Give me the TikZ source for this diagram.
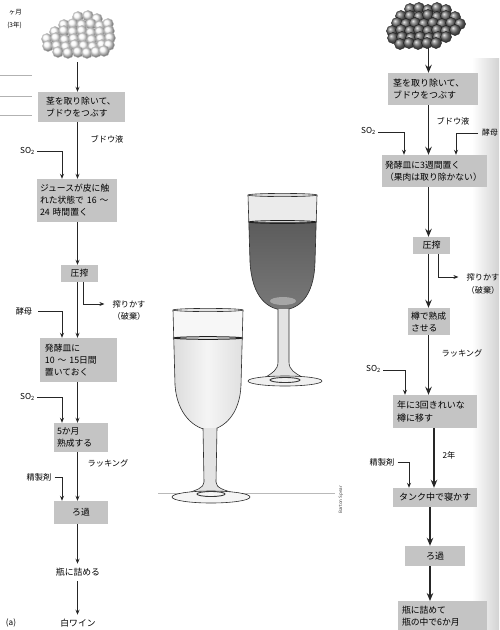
\documentclass[tikz,border=0pt]{standalone}
\usepackage{fontspec}
\setmainfont{Noto Sans CJK JP}
\usetikzlibrary{arrows.meta,shadings}

\definecolor{boxgray}{gray}{0.77}
\definecolor{ink}{gray}{0.15}
\newcommand{\fs}[2]{\fontsize{#1}{#2}\selectfont}

\tikzset{
  lbox/.style={fill=boxgray, inner ysep=0pt, align=left, font=\fs{8.8}{12}},
  rbox/.style={fill=boxgray, inner ysep=0pt, align=left, font=\fs{9}{12.5}},
  lbl/.style={font=\fs{8.2}{10.5}, inner sep=0pt},
  smallarrow/.style={draw=ink, line width=0.8pt, -{Stealth[length=5pt,width=4pt]}},
  bigarrow/.style={draw=ink, line width=1.8pt, -{Stealth[length=8pt,width=6.5pt]}},
  leader/.style={draw=gray!60, line width=0.6pt},
  glassline/.style={draw=gray!35!black, line width=0.6pt},
  lightgrape/.style={ball color=gray!4, draw=gray!50, line width=0.3pt},
  darkgrape/.style={ball color=black!55, draw=gray!20!black, line width=0.3pt},
}

\begin{document}
\begin{tikzpicture}[x=1pt,y=-1pt]
\useasboundingbox (0,0) rectangle (499,630);

% page shadow along the right edge
\shade[left color=white, right color=gray!35] (472,58) rectangle (499,630);

% helper x positions for vertical feed lines
\coordinate (x62) at (62,0);
\coordinate (x83) at (83,0);
\coordinate (x77) at (77.5,0);
\coordinate (x404) at (404,0);
\coordinate (x456) at (456,0);
\coordinate (x438) at (438,0);
\coordinate (x405) at (405,0);
\coordinate (x409) at (409,0);
\coordinate (x428) at (428.5,0);
\coordinate (x434) at (434,0);
\coordinate (x430) at (430,0);

% ---------------- left column: white wine ----------------
\node[lbl, anchor=east, font=\fs{6.5}{8}] (topa) at (22,12) {ヶ月};
\node[lbl, anchor=east, font=\fs{6.5}{8}] (topb) at (22,25) {(3年)};
\draw[leader] (0,75) -- (32,75);
\draw[leader] (0,96) -- (32,96);
\draw[leader] (0,115) -- (32,115);

% light grape bunch
\foreach \gx/\gy in {78/17,88/16,97/19,
  64/25,73/24,82/25,91/24,100/26,108/24,
  55/32,64/31,73/32,82/31,91/33,100/32,109/31,
  47/39,56/38,65/40,74/39,83/38,92/40,101/39,110/38,
  48/46,57/46,66/47,75/45,84/46,93/47,102/45,109/45,
  58/52,68/53,78/52,87/53,96/52,104/51}
  \shadedraw[lightgrape] (\gx,\gy) circle (5.6pt);
\coordinate (gL) at (77.5,62);

\node[lbox, minimum width=87pt, minimum height=30pt, inner xsep=8pt, text width=71pt] (L1) at (81.5,107) {茎を取り除いて、\\ブドウをつぶす};
\node[lbox, minimum width=80pt, minimum height=43pt, inner xsep=3pt, text width=74pt] (L2) at (77,200.5) {ジュースが皮に触\\れた状態で 16 ～\\24 時間置く};
\node[lbox, minimum width=37pt, minimum height=17pt, align=center] (L3) at (79.5,273.5) {圧搾};
\node[lbox, minimum width=77pt, minimum height=44pt, inner xsep=5pt, text width=67pt] (L4) at (78.5,360) {発酵皿に\\10 ～ 15日間\\置いておく};
\node[lbox, minimum width=54pt, minimum height=29pt, inner xsep=3pt, text width=48pt] (L5) at (81,437.5) {5か月\\熟成する};
\node[lbox, minimum width=54pt, minimum height=23pt, align=center] (L6) at (81,512.5) {ろ過};
\node[lbl, font=\fs{8.8}{11}] (L7) at (78,572) {瓶に詰める};
\node[lbl, font=\fs{8.8}{11}] (L8) at (78,623) {白ワイン};
\node[lbl] (tagA) at (11,623) {(a)};

% main flow
\draw[smallarrow] (gL) -- (L1.north -| gL);
\draw[smallarrow] (L1.south -| x77) -- (L2.north -| x77);
\draw[smallarrow] (L2.south -| x77) -- (L3.north -| x77);
\draw[smallarrow] (L3.south -| x77) -- (L4.north -| x77);
\draw[smallarrow] (L4.south -| x77) -- (L5.north -| x77);
\draw[smallarrow] (L5.south -| x77) -- (L6.north -| x77);
\draw[smallarrow] (L6.south -| x77) -- ([yshift=4pt]L7.north -| x77);
\draw[smallarrow] (L7.south -| x77) ++(0,5) -- ([yshift=4pt]L8.north -| x77);

\node[lbl] (grapejuiceL) at (107,139) {ブドウ液};
\node[lbl] (rackL) at (108,463) {ラッキング};

% additions
\node[lbl, anchor=east] (so2a) at (35,151) {SO\textsubscript{2}};
\draw[smallarrow] (so2a.east) ++(2,0) -| (x62 |- L2.north);
\node[lbl] (yeastL) at (24,311) {酵母};
\draw[smallarrow] (yeastL.east) ++(6,0) -| (x62 |- L4.north);
\node[lbl, anchor=east] (so2b) at (35,397) {SO\textsubscript{2}};
\draw[smallarrow] (so2b.east) ++(2,0) -| (x62 |- L5.north);
\node[lbl] (fineL) at (39,477) {精製剤};
\draw[smallarrow] (fineL.east) ++(3,0) -| (x62 |- L6.north);

% pomace branch
\node[lbl] (pomL1) at (129,304) {搾りかす};
\node[lbl] (pomL2) at (129,316) {（破棄）};
\draw[smallarrow] (L3.south -| x83) |- ([xshift=-8pt]pomL1.west);

% ---------------- centre: the two glasses ----------------
\draw[gray!55, line width=0.7pt] (158,493) -- (335,493);

% red wine glass
\begin{scope}
  \clip (248,195) -- (250,262) .. controls (252,298) and (268,309) .. (283,310) .. controls (298,309) and (314,298) .. (315,262) -- (317,195) -- cycle;
  \fill[gray!16] (240,190) rectangle (325,222);
  \shade[top color=black!64, bottom color=black!52] (240,222) rectangle (325,315);
  \fill[black!35] (283,301) ellipse (13pt and 4pt);
\end{scope}
\draw[glassline] (248,195) -- (250,262) .. controls (252,298) and (268,309) .. (283,310) .. controls (298,309) and (314,298) .. (315,262) -- (317,195);
\draw[glassline, fill=gray!30] (282.5,195) ellipse (34.5pt and 1.6pt);
\draw[gray!25!black, line width=0.9pt] (282.5,222) ellipse (33.5pt and 1.4pt);
\draw[glassline, fill=gray!22] (278,309) -- (278,362) .. controls (278,370) and (272,373) .. (266,377) -- (302,377) .. controls (295,373) and (289,370) .. (289,362) -- (289,309);
\draw[glassline, fill=gray!12] (285,381) ellipse (37pt and 5pt);
\draw[gray!45!black, line width=0.9pt] (285,380) ellipse (15pt and 2.5pt);

% white wine glass
\begin{scope}
  \clip (173,310) -- (175,385) .. controls (177,415) and (195,429) .. (209,430) .. controls (223,429) and (240,415) .. (241,385) -- (243,310) -- cycle;
  \fill[gray!6] (165,305) rectangle (250,338);
  \shade[left color=gray!32, right color=gray!28, middle color=gray!8] (165,338) rectangle (250,435);
\end{scope}
\draw[glassline] (173,310) -- (175,385) .. controls (177,415) and (195,429) .. (209,430) .. controls (223,429) and (240,415) .. (241,385) -- (243,310);
\draw[glassline, fill=gray!20] (208,310) ellipse (35pt and 1.6pt);
\draw[gray!25!black, line width=1pt] (208,338) ellipse (34pt and 1.3pt);
\draw[glassline, fill=gray!22] (203,428) -- (204,482) .. controls (204,488) and (196,490) .. (188,493) -- (234,493) .. controls (224,490) and (216,488) .. (216,482) -- (217,428);
\draw[glassline, fill=gray!8] (211,497) ellipse (39pt and 6pt);
\draw[gray!45!black, line width=0.9pt] (211,494) ellipse (14pt and 2.5pt);

\node[rotate=90, font=\fs{4.5}{5}, text=gray!50!black, inner sep=0pt] (credit) at (341,500) {Barton Spear};

% ---------------- right column: red wine ----------------
\foreach \gx/\gy in {410/9,419/8,428/10,437/8,446/10,
  401/16,410/16,419/17,428/15,437/17,446/16,455/17,
  397/23,406/24,415/23,424/24,433/23,442/24,451/23,460/24,
  392/31,401/30,410/31,419/30,428/31,437/30,446/31,455/30,
  393/38,402/37,411/38,420/37,429/38,438/37,446/37,
  400/44,409/43,418/44,427/43,436/43}
  \shadedraw[darkgrape] (\gx,\gy) circle (5.6pt);
\coordinate (gR) at (428.5,48);

\node[rbox, minimum width=90pt, minimum height=32pt, inner xsep=5pt, text width=80pt] (R1) at (433,89) {茎を取り除いて、\\ブドウをつぶす};
\node[rbox, minimum width=105pt, minimum height=32pt, inner xsep=3pt, text width=99pt, font=\fs{8.8}{12.5}] (R2) at (434.5,171) {発酵皿に3週間置く\\（果肉は取り除かない）};
\node[rbox, minimum width=37pt, minimum height=17pt, align=center] (R3) at (431.5,245.5) {圧搾};
\node[rbox, minimum width=42pt, minimum height=27pt, inner xsep=3pt, text width=36pt, font=\fs{8.8}{12}] (R4) at (429,321.5) {樽で熟成\\させる};
\node[rbox, minimum width=84pt, minimum height=33pt, inner xsep=4pt, text width=76pt] (R5) at (435,411.5) {年に3回きれいな\\樽に移す};
\node[rbox, minimum width=84pt, minimum height=19pt, align=center] (R6) at (435,497.5) {タンク中で寝かす};
\node[rbox, minimum width=60pt, minimum height=20pt, align=center] (R7) at (435,556) {ろ過};
\node[rbox, minimum width=89pt, minimum height=29pt, inner xsep=4pt, text width=81pt, font=\fs{8.8}{12}, anchor=north] (R8) at (442.5,601) {瓶に詰めて\\瓶の中で6か月};

% main flow
\draw[bigarrow] (gR) -- (R1.north -| gR);
\draw[bigarrow] (R1.south -| x428) -- (R2.north -| x428);
\draw[bigarrow] (R2.south -| x428) -- (R3.north -| x428);
\draw[bigarrow] (R3.south -| x428) -- (R4.north -| x428);
\draw[bigarrow] (R4.south -| x428) -- (R5.north -| x428);
\draw[bigarrow] (R5.south -| x434) -- (R6.north -| x434);
\draw[bigarrow] (R6.south -| x430) -- (R7.north -| x430);
\draw[bigarrow] (R7.south -| x430) -- (R8.north -| x430);

\node[lbl] (grapejuiceR) at (453,121) {ブドウ液};
\node[lbl] (rackR) at (462,353) {ラッキング};
\node[lbl] (twoyears) at (449,455) {2年};

% additions
\node[lbl, anchor=east] (so2c) at (376,131) {SO\textsubscript{2}};
\draw[smallarrow] (so2c.east) ++(2,1) -| (x404 |- R2.north);
\node[lbl, anchor=west, font=\fs{7.8}{10}] (yeastR) at (482,133) {酵母};
\draw[smallarrow] (yeastR.west) ++(-4,0) -| (x456 |- R2.north);
\node[lbl, anchor=east] (so2d) at (381,369) {SO\textsubscript{2}};
\draw[smallarrow] (so2d.east) ++(2,1) -| (x405 |- R5.north);
\node[lbl] (fineR) at (382,462) {精製剤};
\draw[smallarrow] (fineR.east) ++(3,0) -| (x409 |- R6.north);

% pomace branch
\node[lbl] (pomR1) at (483,277) {搾りかす};
\node[lbl] (pomR2) at (483,290) {（破棄）};
\draw[smallarrow] (R3.south -| x438) |- ([xshift=-8pt]pomR1.west);

\end{tikzpicture}
\end{document}
